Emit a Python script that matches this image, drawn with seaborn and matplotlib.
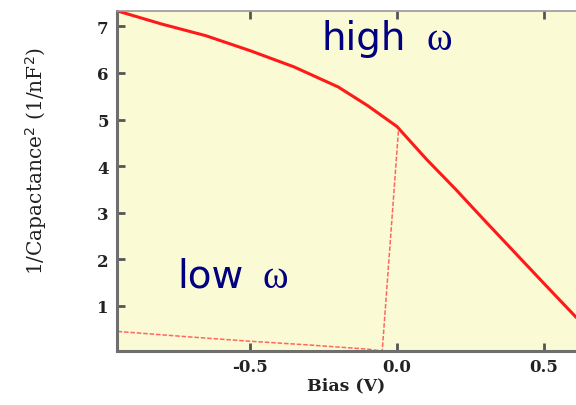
import matplotlib
matplotlib.use("Agg")
import matplotlib.pyplot as plt
import seaborn as sns
import pandas as pd

# high frequency curve (solid)
high_bias = [-0.95, -0.8, -0.65, -0.5, -0.35, -0.2, -0.1, 0.0, 0.1, 0.2, 0.3, 0.4, 0.5, 0.61]
high_inv_c2 = [7.33, 7.05, 6.80, 6.48, 6.13, 5.70, 5.30, 4.85, 4.15, 3.50, 2.82, 2.15, 1.48, 0.75]

# low frequency curve (dashed)
low_bias = [-0.95, -0.7, -0.5, -0.3, -0.1, -0.05, 0.005]
low_inv_c2 = [0.45, 0.33, 0.24, 0.16, 0.07, 0.03, 4.75]

xticks = [-0.5, 0.0, 0.5]
yticks = [1, 2, 3, 4, 5, 6, 7]

sns.set_style("ticks")
plt.rcParams["font.family"] = ["DejaVu Sans"]
plt.rcParams["axes.unicode_minus"] = False

fig = plt.figure(figsize=(5.76, 4.06), dpi=100)
ax = fig.add_axes([117 / 576, 1 - 352 / 406, 1 - 117 / 576, 340 / 406])
ax.set_facecolor("#fafad4")

high = pd.DataFrame({"bias": high_bias, "val": high_inv_c2})
low = pd.DataFrame({"bias": low_bias, "val": low_inv_c2})
sns.lineplot(data=high, x="bias", y="val", ax=ax, color="#ff1a1a", linewidth=2.2, sort=False)
sns.lineplot(data=low, x="bias", y="val", ax=ax, color="#ff4d4d", linewidth=1.1,
             linestyle=(0, (3, 1.2)), sort=False, alpha=0.85)

ax.set_xlim(-0.952, 0.609)
ax.set_ylim(0.03, 7.33)
ax.set_xticks(xticks)
ax.set_xticklabels(["%.1f" % v for v in xticks])
ax.set_yticks(yticks)

serif = ["DejaVu Serif"]
for lab in ax.get_xticklabels() + ax.get_yticklabels():
    lab.set_family(serif)
    lab.set_fontweight("bold")
    lab.set_fontsize(12)
    lab.set_color("#222222")

ax.tick_params(direction="in", length=6, width=2, color="#555555", pad=5,
               top=True, right=False)
ax.tick_params(axis="y", pad=6)
for side in ["left", "bottom", "top"]:
    ax.spines[side].set_color("#6e6e6e")
    ax.spines[side].set_linewidth(2.2)
ax.spines["top"].set_linewidth(1.2)
ax.spines["top"].set_color("#999999")
ax.spines["right"].set_visible(False)

ax.set_xlabel("Bias (V)", family=serif, fontweight="bold", fontsize=12.5, color="#222222", labelpad=1)
ax.set_ylabel("1/Capactance$^2$ (1/nF$^2$)", family=serif, fontsize=14.5, color="#222222")
ax.yaxis.set_label_coords(-0.148, 0.56)

navy = "#000080"
ax.text(-0.255, 6.51, "high", fontsize=28, color=navy, va="baseline", ha="left")
ax.text(0.102, 6.51, "\u03c9", fontsize=28, color=navy, va="baseline", ha="left", family=["Liberation Serif"])
ax.text(-0.745, 1.41, "low", fontsize=28, color=navy, va="baseline", ha="left")
ax.text(-0.456, 1.41, "\u03c9", fontsize=28, color=navy, va="baseline", ha="left", family=["Liberation Serif"])

fig.savefig("out.png", dpi=100)
